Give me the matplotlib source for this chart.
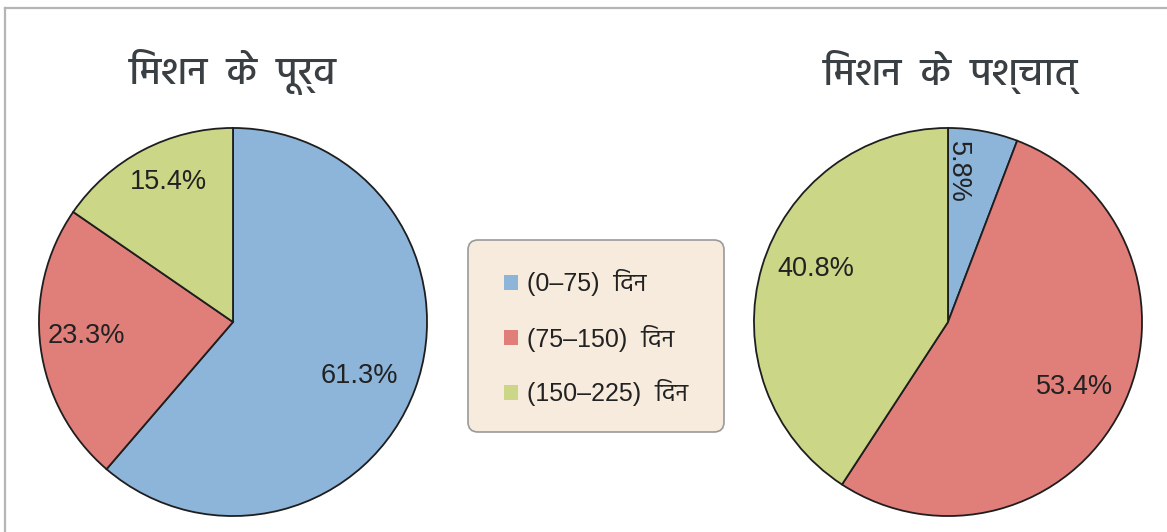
import matplotlib
matplotlib.use("Agg")
import numpy as np
import matplotlib.pyplot as plt
from matplotlib.patches import Patch, FancyBboxPatch
from matplotlib.lines import Line2D
from matplotlib.transforms import IdentityTransform

W, H = 1167, 532

# the i-matra is stored before its consonant because matplotlib does no shaping
TITLES = ["िमशन  के  पूर्व", "िमशन  के  पश्चात्"]
LEGEND_LABELS = ["(0–75)  िदन", "(75–150)  िदन", "(150–225)  िदन"]
BEFORE = [61.3, 23.3, 15.4]
AFTER = [5.8, 53.4, 40.8]
COLORS = ["#8db4d9", "#e07e79", "#cbd687"]

FONT = ["Liberation Sans", "Hind"]
TITLE_FONT = ["Hind", "Liberation Sans"]


def px_axes(fig, cx, cy, r):
    # square axes of side 2r centred on pixel (cx, cy), y counted from top
    return fig.add_axes([(cx - r) / W, (H - cy - r) / H, 2 * r / W, 2 * r / H])


def draw_pie(ax, values, label_pos, rotate=None):
    wedges, _, autotexts = ax.pie(
        values, colors=COLORS, startangle=90, counterclock=False,
        autopct=lambda p: f"{p:.1f}%", radius=1,
        wedgeprops=dict(edgecolor="#1e1e1e", linewidth=1.3),
        textprops=dict(fontsize=19.5, color="#222222", family=FONT))
    # each label sits at (distance, angular nudge in degrees) from the wedge middle
    for w, t, (d, nudge) in zip(wedges, autotexts, label_pos):
        mid = np.deg2rad((w.theta1 + w.theta2) / 2 + nudge)
        t.set_position((d * np.cos(mid), d * np.sin(mid)))
    if rotate is not None:
        autotexts[rotate].set_rotation(-90)
    ax.set_xlim(-1.005, 1.005)
    ax.set_ylim(-1.005, 1.005)
    return wedges


fig = plt.figure(figsize=(W / 100, H / 100), dpi=100)

ax1 = px_axes(fig, 233, 322, 195)
draw_pie(ax1, BEFORE, [(0.71, -2.7), (0.757, -2), (0.796, -3)])
ax2 = px_axes(fig, 948, 322, 195)
draw_pie(ax2, AFTER, [(0.773, 6.5), (0.734, 0), (0.732, -5.3)], rotate=0)

for cx, title in zip([233, 950], TITLES):
    fig.text(cx / W, 1 - 72 / H, title, ha="center", va="center",
             fontsize=28, fontweight=500, color="#3a3f43", family=TITLE_FONT)

# beige key box, drawn in pixels so the rounded corners stay circular
box = FancyBboxPatch((468, H - 432), 256, 192,
                     boxstyle="round,pad=0,rounding_size=10",
                     facecolor="#f6ebdc", edgecolor="#9a9a9a", linewidth=1.2,
                     transform=IdentityTransform())
fig.add_artist(box)

handles = [Patch(facecolor=c, edgecolor="none") for c in COLORS]
leg = fig.legend(handles, LEGEND_LABELS, loc="center",
                 bbox_to_anchor=(596 / W, 1 - 338 / H),
                 prop=dict(family=FONT, size=18),
                 handlelength=0.55, handleheight=0.55, handletextpad=0.36,
                 labelspacing=1.12, borderpad=0.5, frameon=False)
for t in leg.get_texts():
    t.set_color("#222222")

# page border along the top and left
fig.add_artist(Line2D([5 / W, 1], [1 - 8 / H, 1 - 8 / H], color="#b5b5b5", lw=1.6))
fig.add_artist(Line2D([5 / W, 5 / W], [0, 1 - 8 / H], color="#b5b5b5", lw=1.6))

fig.savefig("out.png", dpi=100)
